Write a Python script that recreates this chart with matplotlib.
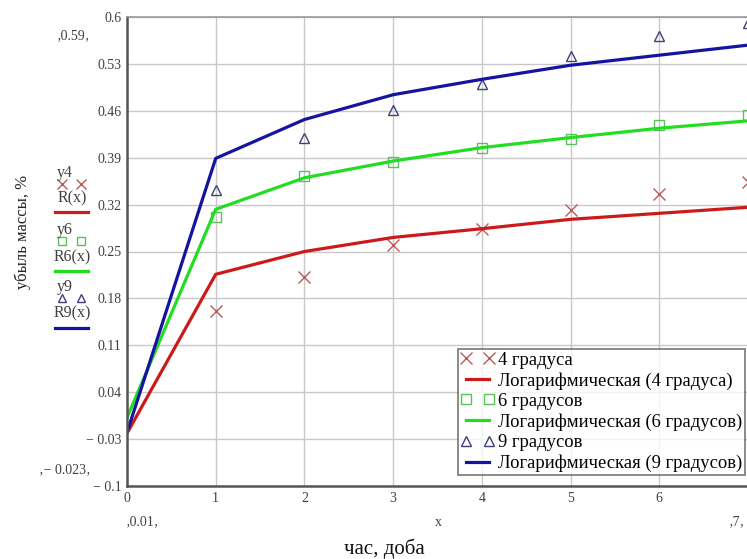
import numpy as np
import matplotlib
matplotlib.use("Agg")
import matplotlib.pyplot as plt
from matplotlib.lines import Line2D

plt.rcParams['font.family'] = ['Liberation Serif', 'DejaVu Serif']

# данные
x_data = [1, 2, 3, 4, 5, 6, 7]
y4 = [0.161, 0.212, 0.260, 0.283, 0.312, 0.336, 0.354]
y6 = [0.301, 0.363, 0.383, 0.404, 0.418, 0.439, 0.454]
y9 = [0.342, 0.419, 0.461, 0.500, 0.542, 0.572, 0.591]

x_fit = [0.01, 1, 2, 3, 4, 5, 6, 7]
R4 = [-0.019, 0.216, 0.250, 0.271, 0.284, 0.298, 0.307, 0.316]
R6 = [0.005, 0.313, 0.360, 0.385, 0.405, 0.420, 0.434, 0.445]
R9 = [-0.016, 0.389, 0.447, 0.484, 0.507, 0.528, 0.543, 0.558]

x_ticks = [0, 1, 2, 3, 4, 5, 6]
y_ticks = [-0.1, -0.03, 0.04, 0.11, 0.18, 0.25, 0.32, 0.39, 0.46, 0.53, 0.6]
y_tick_labels = ["\u2212 0.1", "\u2212 0.03", "0.04", "0.11", "0.18", "0.25",
                 "0.32", "0.39", "0.46", "0.53", "0.6"]

legend_labels = ["4 градуса", "Логарифмическая (4 градуса)",
                 "6 градусов", "Логарифмическая (6 градусов)",
                 "9 градусов", "Логарифмическая (9 градусов)"]

W, H = 747, 559
def fx(px): return px / W
def fy(py): return 1 - py / H

red_m, red_l = '#b85a5a', '#cc1a1a'
grn_m, grn_l = '#5cc05c', '#22dd22'
blu_m, blu_l = '#40407a', '#1414a0'

fig = plt.figure(figsize=(7.47, 5.59), dpi=100)
ax = fig.add_axes([fx(127), fy(486), fx(748) - fx(127), fy(17) - fy(486)])

ax.plot(x_data, y4, ls='none', marker='x', ms=8, mew=1.0, color=red_m, label=legend_labels[0], clip_on=False)
ax.plot(x_fit, R4, color=red_l, lw=2.3, label=legend_labels[1])
ax.plot(x_data, y6, ls='none', marker='s', ms=7, mew=1.0, mfc='none', color=grn_m, label=legend_labels[2], clip_on=False)
ax.plot(x_fit, R6, color=grn_l, lw=2.3, label=legend_labels[3])
ax.plot(x_data, y9, ls='none', marker='^', ms=7, mew=1.0, mfc='none', color=blu_m, label=legend_labels[4], clip_on=False)
ax.plot(x_fit, R9, color=blu_l, lw=2.3, label=legend_labels[5])

ax.set_xlim(0, 7)
ax.set_ylim(-0.1, 0.6)
ax.set_xticks(x_ticks)
ax.set_yticks(y_ticks)
ax.set_yticklabels(y_tick_labels)
ax.grid(True, color='#c8c8c8', lw=1)
ax.set_axisbelow(True)
ax.tick_params(length=0, labelsize=10, labelcolor='#404040', pad=4)
for s in ['left', 'bottom']:
    ax.spines[s].set_color('#555555')
    ax.spines[s].set_linewidth(1.8)
ax.spines['top'].set_color('#999999')
ax.spines['top'].set_linewidth(1.2)
ax.spines['right'].set_visible(False)

leg = ax.legend(loc='lower right', bbox_to_anchor=(fx(745), fy(475)), bbox_transform=fig.transFigure,
                numpoints=2, fontsize=13.4, frameon=True, fancybox=False, borderpad=0.15,
                labelspacing=0.18, handlelength=1.8, handletextpad=0.2, borderaxespad=0)
leg.get_frame().set_edgecolor('#555555')
leg.get_frame().set_linewidth(1.2)

# подписи в стиле Mathcad слева
def lbl(px, py, t, size=11.5, **kw):
    fig.text(fx(px), fy(py), t, ha='center', va='center', fontsize=size, color='#404040', **kw)

lbl(65, 173, "y4")
lbl(72, 198, "R(x)")
lbl(65, 230, "y6")
lbl(72, 257, "R6(x)")
lbl(65, 287, "y9")
lbl(72, 313, "R9(x)")
fig.add_artist(Line2D([fx(62), fx(81)], [fy(184)] * 2, transform=fig.transFigure, ls='none', marker='x', ms=7, mew=1.0, color=red_m))
fig.add_artist(Line2D([fx(55), fx(88)], [fy(212)] * 2, transform=fig.transFigure, color=red_l, lw=2.3))
fig.add_artist(Line2D([fx(62), fx(81)], [fy(241)] * 2, transform=fig.transFigure, ls='none', marker='s', ms=6, mew=1.0, mfc='none', color=grn_m))
fig.add_artist(Line2D([fx(55), fx(88)], [fy(271)] * 2, transform=fig.transFigure, color=grn_l, lw=2.3))
fig.add_artist(Line2D([fx(62), fx(81)], [fy(298)] * 2, transform=fig.transFigure, ls='none', marker='^', ms=6, mew=1.0, mfc='none', color=blu_m))
fig.add_artist(Line2D([fx(55), fx(88)], [fy(328)] * 2, transform=fig.transFigure, color=blu_l, lw=2.3))

fig.text(fx(23), fy(232), "убыль массы, %", rotation=90, ha='center', va='center', fontsize=12, color='#222222')

lbl(73, 36, "\u201a0.59\u201a", size=10)
lbl(65, 470, "\u201a\u2212 0.023\u201a", size=10)
lbl(142, 522, "\u201a0.01\u201a", size=10)
lbl(438, 522, "x", size=10)
lbl(737, 522, "\u201a7\u201a", size=10)
fig.text(fx(384), fy(549), "час, доба", ha='center', va='center', fontsize=15, color='#111111')

fig.savefig("out.png", dpi=100)
